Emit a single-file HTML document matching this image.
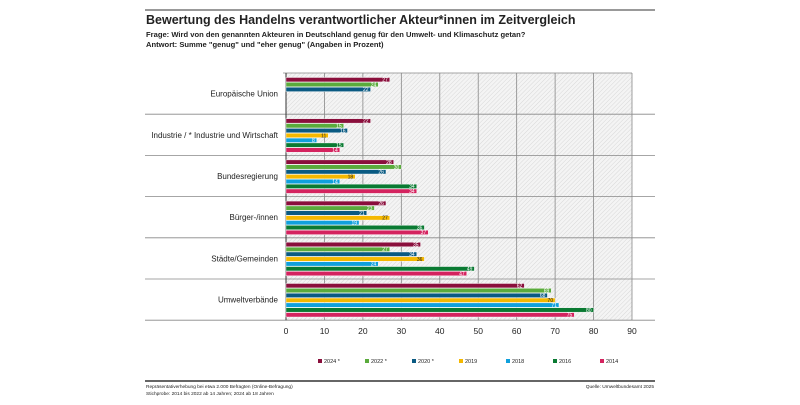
<!DOCTYPE html>
<html><head><meta charset="utf-8"><style>
body{margin:0;background:#fff;width:800px;height:400px;overflow:hidden;font-family:"Liberation Sans",sans-serif}
</style></head><body>
<svg width="800" height="400" viewBox="0 0 800 400" xmlns="http://www.w3.org/2000/svg">
<defs><pattern id="hatch" width="3" height="3" patternUnits="userSpaceOnUse" patternTransform="rotate(45)"><rect width="3" height="3" fill="#f4f4f4"/><line x1="0" y1="0" x2="0" y2="3" stroke="#d8d8d8" stroke-width="1"/></pattern></defs>
<line x1="145" y1="10" x2="655" y2="10" stroke="#333" stroke-width="1"/>
<text x="146" y="24" font-size="12.5" font-weight="bold" fill="#222">Bewertung des Handelns verantwortlicher Akteur*innen im Zeitvergleich</text>
<text x="146" y="37" font-size="7.6" font-weight="bold" fill="#222">Frage: Wird von den genannten Akteuren in Deutschland genug für den Umwelt- und Klimaschutz getan?</text>
<text x="146" y="47" font-size="7.6" font-weight="bold" fill="#222">Antwort: Summe "genug" und "eher genug" (Angaben in Prozent)</text>
<g id="plot"></g>
<g id="legend"></g>
<line x1="145" y1="381" x2="655" y2="381" stroke="#333" stroke-width="1.5"/>
<text x="146" y="388" font-size="4.8" fill="#222">Repräsentativerhebung bei etwa 2.000 Befragten (Online-Befragung)</text>
<text x="146" y="395" font-size="4.8" fill="#222">Stichprobe: 2014 bis 2022 ab 14 Jahren; 2024 ab 18 Jahren</text>
<text x="654" y="388" font-size="4.8" fill="#222" text-anchor="end">Quelle: Umweltbundesamt 2025</text>
</svg>
<script>
const categories=["Europäische Union","Industrie / * Industrie und Wirtschaft","Bundesregierung","Bürger-/innen","Städte/Gemeinden","Umweltverbände"];
const years=["2024 *","2022 *","2020 *","2019","2018","2016","2014"];
const v2024=[27,22,28,26,35,62];
const v2022=[24,15,30,23,27,69];
const v2020=[22,16,26,21,34,68];
const v2019=[null,11,18,27,36,70];
const v2018=[null,8,14,19,24,71];
const v2016=[null,15,34,36,49,80];
const v2014=[null,14,34,37,47,75];
const ticks=[0,10,20,30,40,50,60,70,80,90];
const series=[v2024,v2022,v2020,v2019,v2018,v2016,v2014];
const colors=["#8a0f3c","#5aab3c","#0a5a82","#f5b800","#10a0dc","#0a7a32","#d4235f"];
const NS="http://www.w3.org/2000/svg";
const X0=286,X1=632,Y0=73,GH=41.2;
const x=v=>X0+(v-ticks[0])/(ticks[ticks.length-1]-ticks[0])*(X1-X0);
const plot=document.getElementById('plot');
function mk(t,a,p){const e=document.createElementNS(NS,t);for(const k in a)e.setAttribute(k,a[k]);(p||plot).appendChild(e);return e;}
let bg=mk('rect',{x:X0,y:Y0,width:X1-X0,height:GH*categories.length,fill:'url(#hatch)'});


ticks.forEach(t=>{
 let l=mk('line',{x1:x(t),y1:Y0,x2:x(t),y2:Y0+GH*categories.length,stroke:'#888','stroke-width':0.8});
 
 
 let tx=mk('text',{x:x(t),y:334,'font-size':8.5,'text-anchor':'middle',fill:'#222'});tx.textContent=t;
 
 
});
for(let i=0;i<=categories.length;i++){
 const y=Y0+GH*i;
 let l=mk('line',{x1:i==0?X0-3:145,y1:y,x2:i==0?X1:655,y2:y,stroke:i==0?'#888':'#888','stroke-width':0.8});
 
 
}
let ax=mk('line',{x1:X0,y1:Y0,x2:X0,y2:Y0+GH*categories.length,stroke:'#333','stroke-width':1});


categories.forEach((c,i)=>{
 const gy=Y0+GH*i;
 let lb=mk('text',{x:278,y:gy+GH/2+3,'font-size':8,'text-anchor':'end',fill:'#222'});lb.textContent=c;
 
 
 series.forEach((s,j)=>{
  const v=s[i];if(v==null)return;
  const by=gy+4.5+j*4.85;
  let r=mk('rect',{x:X0,y:by,width:x(v)-X0,height:4.4,fill:colors[j],stroke:'#fff','stroke-width':0.4});
  
  
  let t=mk('text',{x:x(v)-2,y:by+4,'font-size':5,'text-anchor':'end',fill:j==3?'#222':'#fff'});t.textContent=v;
  
  
 });
});
const lg=document.getElementById('legend');
years.forEach((yr,j)=>{
 const lx=318+j*47;
 let r=mk('rect',{x:lx,y:359,width:4,height:4,fill:colors[j]},lg);
 
 
 let t=mk('text',{x:lx+6,y:363,'font-size':5.5,fill:'#222'},lg);t.textContent=yr;
 
 
});
</script>
</body></html>
